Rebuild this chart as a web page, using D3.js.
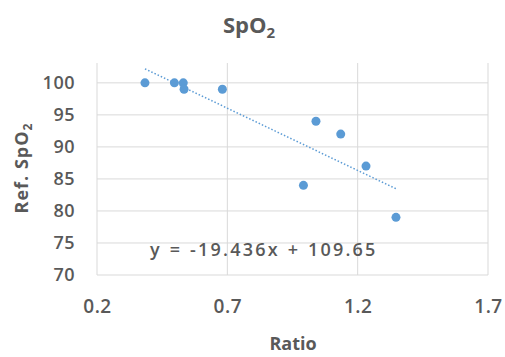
<!DOCTYPE html>
<html>
<head>
<meta charset="utf-8">
<script src="https://cdn.jsdelivr.net/npm/d3@7"></script>
<style>
  body { margin: 0; background: #fff; }
  text { font-family: "Open Sans", sans-serif; fill: #595959; }
</style>
</head>
<body>
<script>
const ratio = [0.384, 0.497, 0.531, 0.534, 0.681, 1.040, 1.135, 1.232, 0.992, 1.347];
const refSpO2 = [100, 100, 100, 99, 99, 94, 92, 87, 84, 79];
const xTicks = [0.2, 0.7, 1.2, 1.7];
const yTicks = [70, 75, 80, 85, 90, 95, 100];
const slope = -19.436, intercept = 109.65;

const W = 505, H = 357;
const margin = { top: 63, right: 17, bottom: 82, left: 97 },
      width = W - margin.left - margin.right,
      height = H - margin.top - margin.bottom;

const x = d3.scaleLinear().domain([0.2, 1.7]).range([0, width]);
const y = d3.scaleLinear().domain([70, 103.1]).range([height, 0]);

const svg = d3.select("body").append("svg")
    .attr("width", W)
    .attr("height", H);

const g = svg.append("g")
    .attr("transform", `translate(${margin.left},${margin.top})`);

// gridlines
g.append("g")
  .selectAll("line")
  .data(yTicks)
  .enter().append("line")
    .attr("x1", 0).attr("x2", width)
    .attr("y1", d => y(d)).attr("y2", d => y(d))
    .attr("stroke", "#d9d9d9").attr("stroke-width", 1);

g.append("g")
  .selectAll("line")
  .data(xTicks)
  .enter().append("line")
    .attr("x1", d => x(d)).attr("x2", d => x(d))
    .attr("y1", 0).attr("y2", height)
    .attr("stroke", "#d9d9d9").attr("stroke-width", 1);

// axes labels
const yAxis = g.append("g")
    .call(d3.axisLeft(y).tickValues(yTicks).tickSize(0).tickPadding(22));
yAxis.select(".domain").remove();
yAxis.selectAll("text").attr("font-size", 18).attr("font-weight", 600).attr("fill", "#595959")
    .style("font-family", "'Open Sans', sans-serif").style("letter-spacing", "0.5px");

const xAxis = g.append("g")
    .attr("transform", `translate(0,${height})`)
    .call(d3.axisBottom(x).tickValues(xTicks).tickFormat(d3.format(".1f")).tickSize(0).tickPadding(25));
xAxis.select(".domain").remove();
xAxis.selectAll("text").attr("font-size", 19).attr("font-weight", 600).attr("fill", "#595959")
    .style("font-family", "'Open Sans', sans-serif").style("letter-spacing", "0.5px");

// trendline
const xr = d3.extent(ratio);
g.append("line")
    .attr("x1", x(xr[0])).attr("y1", y(slope * xr[0] + intercept))
    .attr("x2", x(xr[1])).attr("y2", y(slope * xr[1] + intercept))
    .attr("stroke", "#5b9bd5")
    .attr("stroke-width", 1.5)
    .attr("stroke-dasharray", "1.5,2");

// points
g.append("g")
  .selectAll("circle")
  .data(ratio)
  .enter().append("circle")
    .attr("cx", d => x(d))
    .attr("cy", (d, i) => y(refSpO2[i]))
    .attr("r", 4.5)
    .attr("fill", "#5b9bd5");

// equation
g.append("text")
    .attr("x", 53)
    .attr("y", 193)
    .attr("font-size", 18)
    .attr("font-weight", 600)
    .style("letter-spacing", "2.2px")
    .style("word-spacing", "1px")
    .text(`y = ${slope}x + ${intercept}`);

// title
const title = svg.append("text")
    .attr("x", 249)
    .attr("y", 33)
    .attr("text-anchor", "middle")
    .attr("font-size", 22)
    .attr("font-weight", "bold");
title.append("tspan").text("SpO");
title.append("tspan").attr("font-size", 15).attr("dy", 5).text("2");

// axis titles
svg.append("text")
    .attr("x", 293)
    .attr("y", 350)
    .attr("text-anchor", "middle")
    .attr("font-size", 18)
    .attr("font-weight", "bold")
    .text("Ratio");

const yt = svg.append("text")
    .attr("transform", "translate(28,168) rotate(-90)")
    .attr("text-anchor", "middle")
    .attr("font-size", 18)
    .attr("font-weight", "bold")
    .style("letter-spacing", "1px");
yt.append("tspan").text("Ref. SpO");
yt.append("tspan").attr("font-size", 12).attr("dy", 4).text("2");
</script>
</body>
</html>
